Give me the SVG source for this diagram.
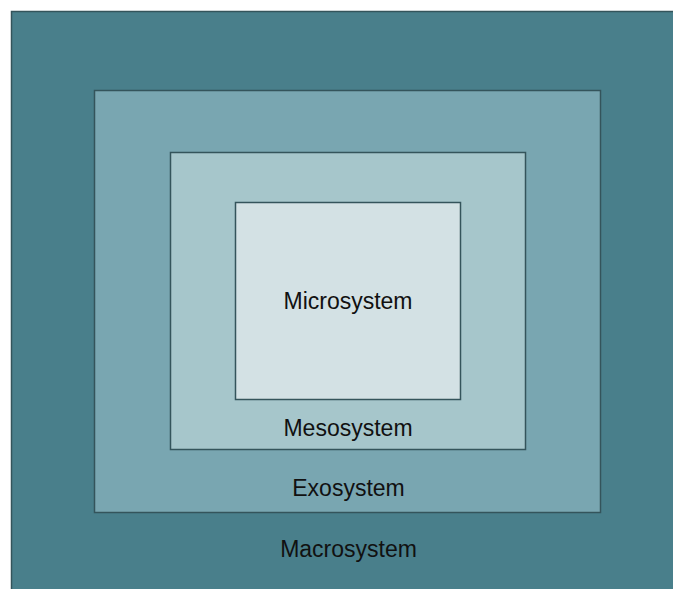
<svg xmlns="http://www.w3.org/2000/svg" width="673" height="589" viewBox="0 0 673 589">
<style>
.box{stroke:#34545b;stroke-width:1.5}
.lbl{font-family:"Liberation Sans",Arial,sans-serif;font-size:23px;fill:#111;text-anchor:middle}
</style>
<rect width="673" height="589" fill="#ffffff"/>
<g id="macrosystem">
<rect class="box" x="11.5" y="11.5" width="680" height="600" fill="#497f8b"/>
<text class="lbl" x="348.5" y="557">Macrosystem</text>
</g>
<g id="exosystem">
<rect class="box" x="94.5" y="90.5" width="506" height="422" fill="#79a6b1"/>
<text class="lbl" x="348.5" y="496">Exosystem</text>
</g>
<g id="mesosystem">
<rect class="box" x="170.5" y="152.5" width="355" height="297" fill="#a6c6cb"/>
<text class="lbl" x="348" y="436">Mesosystem</text>
</g>
<g id="microsystem">
<rect class="box" x="235.5" y="202.5" width="225" height="197" fill="#d3e1e4"/>
<text class="lbl" x="348" y="309">Microsystem</text>
</g>
<g id="connectors"/>
</svg>
